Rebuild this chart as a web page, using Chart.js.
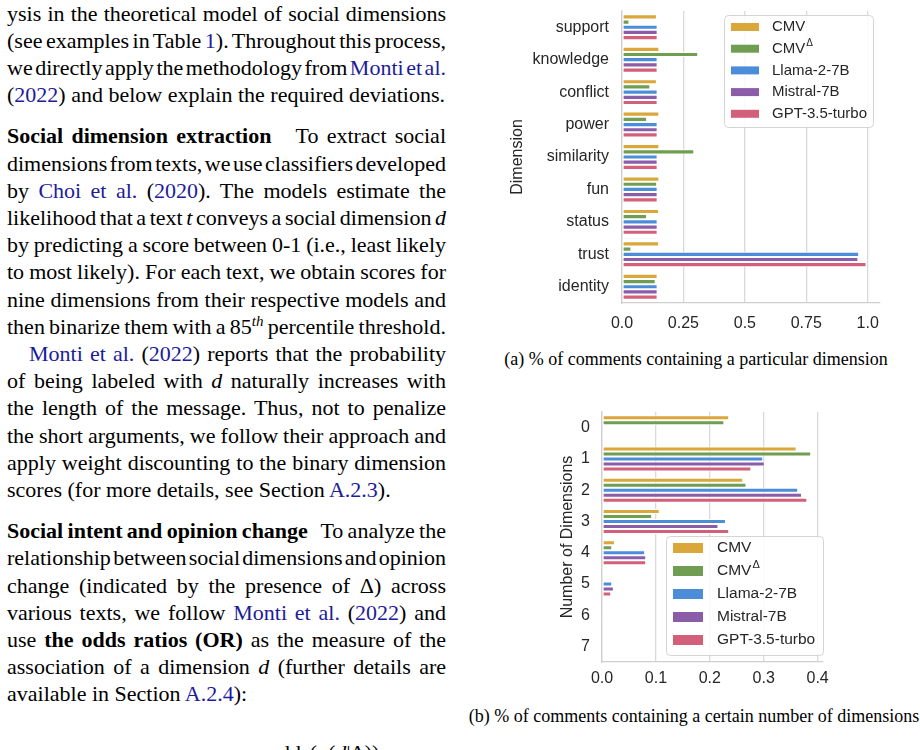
<!DOCTYPE html>
<html>
<head>
<meta charset="utf-8">
<script src="https://cdn.jsdelivr.net/npm/chart.js@4"></script>
<style>
  html, body { margin: 0; padding: 0; background: #fff; }
  #page { position: relative; width: 920px; height: 750px; overflow: hidden; background: #fff; }
  .col { position: absolute; left: 7px; top: -0.5px; width: 439px;
         font-family: "Liberation Serif", "Times New Roman", serif; font-size: 22px;
         line-height: 27.2px; color: #000; }
  .j, .e { white-space: nowrap; }
  .gap { margin-top: 14px; }
  .ind { text-indent: 22px; }
  .lk { color: #1c1c9a; }
  sup { font-size: 15px; line-height: 0; vertical-align: 8px; }
  .cap { position: absolute; font-family: "Liberation Serif", "Times New Roman", serif;
         font-size: 18px; color: #000; white-space: nowrap; transform: translateX(-50%); }
  canvas { position: absolute; }
</style>
</head>
<body>
<div id="page">

<div class="col">
  <div class="j">ysis in the theoretical model of social dimensions</div>
  <div class="j">(see examples in Table <span class="lk">1</span>). Throughout this process,</div>
  <div class="j">we directly apply the methodology from <span class="lk">Monti et al.</span></div>
  <div class="e">(<span class="lk">2022</span>) and below explain the required deviations.</div>

  <div class="j gap"><b>Social dimension extraction</b>&nbsp;&nbsp; To extract social</div>
  <div class="j">dimensions from texts, we use classifiers developed</div>
  <div class="j">by <span class="lk">Choi et al.</span> (<span class="lk">2020</span>). The models estimate the</div>
  <div class="j">likelihood that a text <i>t</i> conveys a social dimension <i>d</i></div>
  <div class="j">by predicting a score between 0-1 (i.e., least likely</div>
  <div class="j">to most likely). For each text, we obtain scores for</div>
  <div class="j">nine dimensions from their respective models and</div>
  <div class="j">then binarize them with a 85<sup><i>th</i></sup> percentile threshold.</div>
  <div class="j ind"><span class="lk">Monti et al.</span> (<span class="lk">2022</span>) reports that the probability</div>
  <div class="j">of being labeled with <i>d</i> naturally increases with</div>
  <div class="j">the length of the message. Thus, not to penalize</div>
  <div class="j">the short arguments, we follow their approach and</div>
  <div class="j">apply weight discounting to the binary dimension</div>
  <div class="e">scores (for more details, see Section <span class="lk">A.2.3</span>).</div>

  <div class="j gap"><b>Social intent and opinion change</b>&nbsp;&nbsp; To analyze the</div>
  <div class="j">relationship between social dimensions and opinion</div>
  <div class="j">change (indicated by the presence of Δ) across</div>
  <div class="j">various texts, we follow <span class="lk">Monti et al.</span> (<span class="lk">2022</span>) and</div>
  <div class="j">use <b>the odds ratios (OR)</b> as the measure of the</div>
  <div class="j">association of a dimension <i>d</i> (further details are</div>
  <div class="e">available in Section <span class="lk">A.2.4</span>):</div>
</div>

<div style="position:absolute; left:268px; top:739px; font-family:'Liberation Serif',serif; font-size:22px; line-height:27.2px;">odds(<i>p</i>(<i>d</i>|Δ))</div>

<canvas id="chartDim" width="400" height="335" style="left:500px; top:0px;"></canvas>
<div class="cap" style="left:696px; top:349px;">(a) % of comments containing a particular dimension</div>

<canvas id="chartCount" width="360" height="300" style="left:540px; top:395px;"></canvas>
<div class="cap" style="left:694px; top:706px;">(b) % of comments containing a certain number of dimensions</div>

</div>

<script>
/* =========================
   DATOS
========================= */

const seriesNames = ["CMV", "CMV^Δ", "Llama-2-7B", "Mistral-7B", "GPT-3.5-turbo"];

// (a) share of comments containing each dimension
const dimensions = ["support", "knowledge", "conflict", "power", "similarity", "fun", "status", "trust", "identity"];
const dimCMV      = [0.142, 0.152, 0.142, 0.152, 0.152, 0.152, 0.151, 0.151, 0.145];
const dimCMVDelta = [0.030, 0.310, 0.115, 0.102, 0.294, 0.143, 0.102, 0.038, 0.137];
const dimLlama    = [0.145, 0.145, 0.145, 0.145, 0.145, 0.145, 0.145, 0.965, 0.145];
const dimMistral  = [0.145, 0.145, 0.145, 0.145, 0.145, 0.145, 0.145, 0.962, 0.145];
const dimGPT      = [0.145, 0.145, 0.145, 0.145, 0.145, 0.145, 0.145, 0.995, 0.145];
const dimTicks      = [0, 0.25, 0.5, 0.75, 1.0];
const dimTickLabels = ["0.0", "0.25", "0.5", "0.75", "1.0"];

// (b) share of comments containing N dimensions
const counts      = ["0", "1", "2", "3", "4", "5", "6", "7"];
const cntCMV      = [0.236, 0.361, 0.262, 0.107, 0.024, 0.002, 0, 0];
const cntCMVDelta = [0.227, 0.388, 0.268, 0.093, 0.019, 0, 0, 0];
const cntLlama    = [0, 0.299, 0.364, 0.230, 0.080, 0.019, 0.004, 0];
const cntMistral  = [0, 0.302, 0.371, 0.216, 0.082, 0.022, 0.004, 0];
const cntGPT      = [0, 0.277, 0.381, 0.236, 0.082, 0.017, 0.004, 0];
const cntTicks      = [0, 0.1, 0.2, 0.3, 0.4];
const cntTickLabels = ["0.0", "0.1", "0.2", "0.3", "0.4"];

/* =========================
   TEXTO JUSTIFICADO (líneas fijas)
========================= */

const ANCHO_COL = 439;
document.querySelectorAll(".col .j").forEach(el => {
  el.innerHTML = "<span>" + el.innerHTML + "</span>";
  const natural = el.firstChild.getBoundingClientRect().width;
  const indent = el.classList.contains("ind") ? 22 : 0;
  const espacios = (el.textContent.match(/[ \u00a0]/g) || []).length;
  if (espacios > 0) {
    el.style.wordSpacing = ((ANCHO_COL - indent - natural) / espacios) + "px";
  }
});

/* =========================
   ESTILO
========================= */

const COLORES = ["#d9a73a", "#6f9e52", "#4c8dd9", "#8b5ca8", "#d2607a"];
const TXT = "#262626";
const FUENTE = "'Liberation Sans', Arial, sans-serif";

// leyenda con caja redondeada dentro del área del gráfico
const boxLegend = {
  id: "boxLegend",
  afterDraw(chart, args, o) {
    const ctx = chart.ctx;
    ctx.save();
    ctx.beginPath();
    ctx.roundRect(o.x + 0.5, o.y + 0.5, o.w, o.h, 4);
    ctx.fillStyle = "rgba(255,255,255,0.85)";
    ctx.fill();
    ctx.strokeStyle = "#d4d4d4";
    ctx.lineWidth = 1;
    ctx.stroke();

    chart.data.datasets.forEach((ds, i) => {
      const cy = o.y0 + i * o.step;
      ctx.fillStyle = ds.backgroundColor;
      ctx.fillRect(o.sx, cy - o.sh / 2, o.sw, o.sh);

      const [base, sup] = ds.label.split("^");
      ctx.fillStyle = TXT;
      ctx.textBaseline = "middle";
      ctx.textAlign = "left";
      ctx.font = o.size + "px " + FUENTE;
      ctx.fillText(base, o.tx, cy);
      if (sup) {
        const w = ctx.measureText(base).width;
        ctx.font = Math.round(o.size * 0.68) + "px " + FUENTE;
        ctx.fillText(sup, o.tx + w + 1, cy - o.size * 0.38);
      }
    });
    ctx.restore();
  }
};

function hacerDatasets(series) {
  return series.map((data, i) => ({
    label: seriesNames[i],
    data,
    backgroundColor: COLORES[i],
    borderColor: "#ffffff",
    borderWidth: 1,
    borderSkipped: false,
    categoryPercentage: 0.8,
    barPercentage: 1.0
  }));
}

function sinMargen(s) {
  s.paddingTop = 0; s.paddingBottom = 0; s.paddingLeft = 0; s.paddingRight = 0;
}

function crearGrafico(id, cats, series, cfg) {
  return new Chart(document.getElementById(id), {
    type: "bar",
    data: { labels: cats, datasets: hacerDatasets(series) },
    plugins: [boxLegend],
    options: {
      indexAxis: "y",
      responsive: false,
      animation: false,
      layout: { padding: cfg.padding },
      plugins: {
        legend: { display: false },
        tooltip: { enabled: false },
        boxLegend: cfg.legend
      },
      scales: {
        x: {
          min: 0,
          max: cfg.max,
          afterBuildTicks: s => { s.ticks = cfg.ticks.map(v => ({ value: v })); },
          afterFit: s => { s.height = cfg.xHeight; sinMargen(s); },
          ticks: {
            padding: cfg.xPad,
            color: TXT,
            font: { family: FUENTE, size: 16 },
            maxRotation: 0,
            callback: v => cfg.tickLabels[cfg.ticks.indexOf(v)]
          },
          grid: { color: "#dadada", lineWidth: 1.3, drawTicks: false },
          border: { color: "#cfcfcf", width: 1.3 }
        },
        y: {
          afterFit: s => { s.width = cfg.yWidth; sinMargen(s); },
          ticks: { padding: cfg.yPad, color: TXT, font: { family: FUENTE, size: 16 } },
          grid: { display: false, drawTicks: false },
          border: { color: "#cfcfcf", width: 1.3 },
          title: {
            display: true,
            text: cfg.yTitle,
            color: TXT,
            font: { family: FUENTE, size: 16 },
            padding: { top: cfg.titlePad, bottom: 0 }
          }
        }
      }
    }
  });
}

/* =========================
   GRÁFICOS
========================= */

crearGrafico("chartDim", dimensions, [dimCMV, dimCMVDelta, dimLlama, dimMistral, dimGPT], {
  padding: { left: 0, top: 11, right: 20, bottom: 0 },
  max: 1.05,
  ticks: dimTicks,
  tickLabels: dimTickLabels,
  xHeight: 32, xPad: 11,
  yWidth: 122, yPad: 13,
  yTitle: "Dimension", titlePad: 8,
  legend: { x: 224, y: 15, w: 149, h: 112, y0: 27, step: 21.7, sx: 231, sw: 28, sh: 8, tx: 272, size: 15 }
});

crearGrafico("chartCount", counts, [cntCMV, cntCMVDelta, cntLlama, cntMistral, cntGPT], {
  padding: { left: 0, top: 17, right: 77, bottom: 0 },
  max: 0.41,
  ticks: cntTicks,
  tickLabels: cntTickLabels,
  xHeight: 33, xPad: 7,
  yWidth: 62, yPad: 12,
  yTitle: "Number of Dimensions", titlePad: 18,
  legend: { x: 126, y: 141, w: 157, h: 119, y0: 153, step: 23, sx: 133, sw: 30, sh: 10, tx: 177, size: 15.5 }
});
</script>
</body>
</html>
